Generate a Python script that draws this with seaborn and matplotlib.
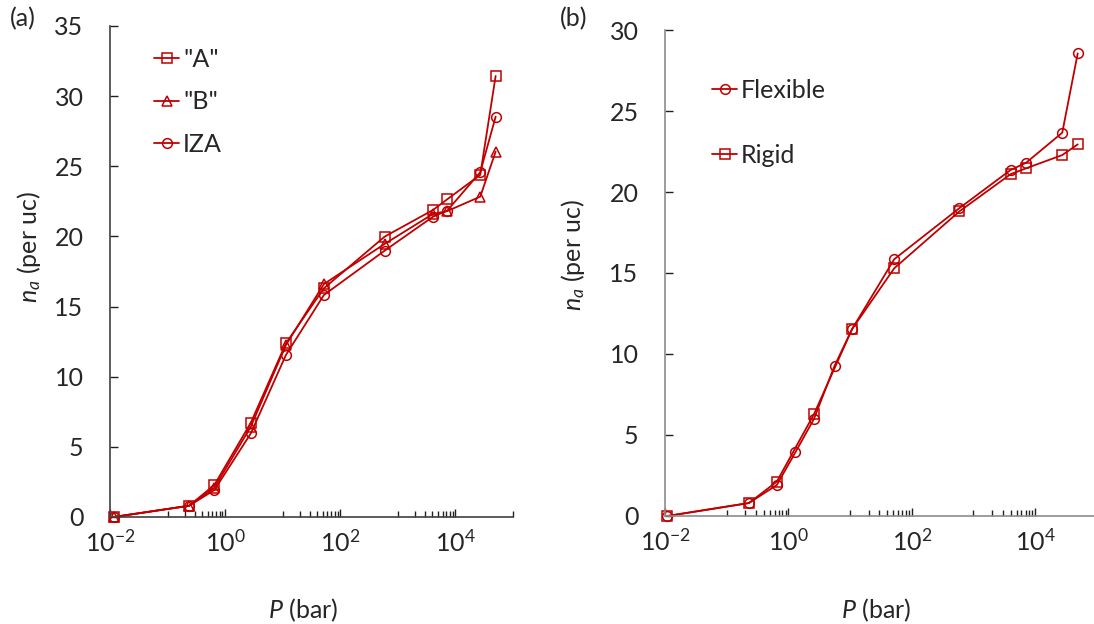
import matplotlib
matplotlib.use('Agg')
import matplotlib.pyplot as plt
import seaborn as sns
from matplotlib.ticker import FixedLocator, FixedFormatter, NullFormatter

sns.set_theme(style='ticks')
plt.rcParams['font.family'] = ['Lato', 'DejaVu Sans']
plt.rcParams['mathtext.fontset'] = 'custom'
plt.rcParams['mathtext.rm'] = 'Lato'
plt.rcParams['mathtext.it'] = 'Lato:italic'
plt.rcParams['mathtext.bf'] = 'Lato:bold'

red = '#C00000'

# panel (a): pressure (bar) and loading (per uc)
p_a = [0.0117, 0.237, 0.65, 2.8, 11.4, 52, 590, 4080, 7200, 27000, 50000]
n_A = [0.0, 0.8, 2.28, 6.72, 12.38, 16.3, 19.98, 21.88, 22.64, 24.38, 31.43]
n_B = [0.0, 0.8, 2.09, 6.44, 12.26, 16.6, 19.46, 21.6, 21.8, 22.83, 26.04]
n_IZA = [0.0, 0.8, 1.92, 5.96, 11.55, 15.82, 18.98, 21.4, 21.83, 24.57, 28.53]

# panel (b)
p_flex = [0.011, 0.23, 0.65, 1.3, 2.6, 5.6, 10.8, 52, 590, 4000, 7100, 27500, 49000]
n_flex = [0.0, 0.8, 1.91, 3.93, 5.99, 9.26, 11.54, 15.85, 19.0, 21.36, 21.8, 23.66, 28.56]
p_rigid = [0.011, 0.23, 0.65, 2.6, 10.8, 52, 590, 4000, 7100, 27500, 49000]
n_rigid = [0.0, 0.8, 2.12, 6.28, 11.54, 15.29, 18.8, 21.1, 21.46, 22.28, 22.94]

major_x = [1e-2, 1e0, 1e2, 1e4]
major_lbl = ['10$^{-2}$', '10$^{0}$', '10$^{2}$', '10$^{4}$']
minor_x = [k * 10.0 ** e for e in (-1, 1, 3) for k in range(1, 10)] + [1e5]

fs = 18

fig = plt.figure(figsize=(10.94, 6.24), dpi=100)
ax1 = fig.add_axes([0.1005, 0.1715, 0.3684, 0.787])
ax2 = fig.add_axes([0.6078, 0.1731, 0.3948, 0.7788])


def draw(ax, x, y, marker, label):
    sns.lineplot(x=x, y=y, ax=ax, sort=False, color=red, lw=1.3,
                 marker=marker, ms=7, markerfacecolor='none',
                 mec=red, mew=1.1, label=label, clip_on=False)


draw(ax1, p_a, n_A, 's', '"A"')
draw(ax1, p_a, n_B, '^', '"B"')
draw(ax1, p_a, n_IZA, 'o', 'IZA')

draw(ax2, p_flex, n_flex, 'o', 'Flexible')
draw(ax2, p_rigid, n_rigid, 's', 'Rigid')

for ax, ymax, sc in [(ax1, 35, '#404040'), (ax2, 30, '#8c8c8c')]:
    ax.set_xscale('log')
    ax.set_xlim(1e-2, 1e5)
    ax.set_ylim(0, ymax)
    ax.set_yticks(range(0, ymax + 1, 5))
    ax.xaxis.set_major_locator(FixedLocator(major_x))
    ax.xaxis.set_major_formatter(FixedFormatter(major_lbl))
    ax.xaxis.set_minor_locator(FixedLocator(minor_x))
    ax.xaxis.set_minor_formatter(NullFormatter())
    ax.tick_params(axis='x', which='major', direction='in', length=6, width=1,
                   labelsize=fs, pad=9, color='#202020')
    ax.tick_params(axis='x', which='minor', direction='in', length=4.5, width=1,
                   color='#202020')
    ax.tick_params(axis='y', direction='in', length=6, width=1, labelsize=fs,
                   pad=19, color='#202020')
    for s in ['top', 'right']:
        ax.spines[s].set_visible(False)
    for s in ['left', 'bottom']:
        ax.spines[s].set_color(sc)
        ax.spines[s].set_linewidth(1.2)
    ax.set_xlabel('$P$ (bar)', fontsize=fs)
    ax.set_ylabel('$n_a$ (per uc)', fontsize=fs)

ax1.xaxis.set_label_coords(0.479, -0.162)
ax1.yaxis.set_label_coords(-0.166, 0.55)
ax2.xaxis.set_label_coords(0.49, -0.165)
ax2.yaxis.set_label_coords(-0.18, 0.537)

ax1.legend(loc='upper left', bbox_to_anchor=(0.11, 0.955), frameon=False,
           fontsize=fs, handlelength=1.0, handletextpad=0.15,
           labelspacing=0.78, borderaxespad=0, borderpad=0)
ax2.legend(loc='upper left', bbox_to_anchor=(0.11, 0.9), frameon=False,
           fontsize=fs, handlelength=1.0, handletextpad=0.15,
           labelspacing=1.7, borderaxespad=0, borderpad=0)

fig.text(0.009, 0.97, '(a)', fontsize=fs, va='center')
fig.text(0.512, 0.97, '(b)', fontsize=fs, va='center')

fig.savefig('out.png', dpi=100)
